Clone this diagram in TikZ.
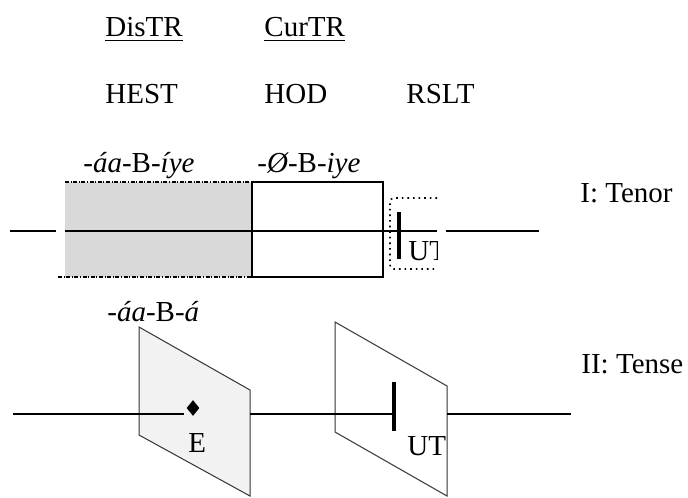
\documentclass[tikz,border=0pt]{standalone}
\usepackage{fontspec}
\setmainfont{Liberation Serif}
\usetikzlibrary{shapes.geometric}

\tikzset{
  lbl/.style={anchor=base west, inner sep=0pt, font=\fontsize{14.5}{17}\selectfont},
  tline/.style={line width=1.1pt},
  utbar/.style={line width=1.8pt},
  plane/.style={draw=black!80, line width=0.5pt},
  dashdotline/.style={line width=0.6pt, dash pattern=on 2pt off 0.8pt on 0.5pt off 0.8pt},
}

\begin{document}
\begin{tikzpicture}[x=0.5pt,y=-0.5pt]
\useasboundingbox (0,0) rectangle (688,497);

% Row positions
\def\rowa{231}
\def\rowb{414}

% Column heads
\node[lbl] (distr) at (105,37) {\underline{DisTR}};
\node[lbl] (curtr) at (264,37) {\underline{CurTR}};
\node[lbl] (hest) at (105,104) {HEST};
\node[lbl] (hod)  at (264,104) {HOD};
\node[lbl] (rslt) at (406,104) {RSLT};

% I: Tenor (boxes on the time line)
\fill[black!15] (65,182) rectangle (252,277);
\draw[dashdotline] (65,182) -- (252,182);
\draw[dashdotline] (58,277) -- (252,277);
\draw[line width=0.75pt] (252,182) rectangle (383,277);
\draw[line width=0.8pt, dotted, rounded corners=2pt] (437,198) -- (390,198) -- (390,269) -- (437,269);

\draw[tline] (10,\rowa) -- (56,\rowa);
\draw[tline] (65,\rowa) -- (437,\rowa);
\draw[tline] (446,\rowa) -- (539,\rowa);
\draw[utbar] (399,212) -- (399,259);
\begin{scope}
  \clip (0,0) rectangle (437,497);
  \node[lbl] (uta) at (408,260) {UT};
\end{scope}

\node[lbl] (morpha) at (83,172) {\textit{-áa-}B\textit{-íye}};
\node[lbl] (morphb) at (257,172) {\textit{-Ø-}B\textit{-iye}};
\node[lbl] (tenor) at (580,202) {I: Tenor};

% II: Tense (planes on the time line)
\filldraw[plane, fill=black!5] (139,327) -- (250,390) -- (250,496) -- (139,435) -- cycle;
\draw[plane] (335,322) -- (447,386) -- (447,496) -- (335,432) -- cycle;

\draw[tline] (13,\rowb) -- (184,\rowb);
\node[diamond, fill=black, inner sep=0pt, minimum width=6.5pt, minimum height=8pt] (ev) at (193,408) {};
\node[lbl] (e) at (188,452) {E};
\draw[tline] (250,\rowb) -- (394,\rowb);
\draw[utbar] (394,382) -- (394,431);
\draw[tline] (447,\rowb) -- (571,\rowb);
\node[lbl] (utb) at (407,455) {UT};

\node[lbl] (morphc) at (107,321) {\textit{-áa-}B\textit{-á}};
\node[lbl] (tense) at (581,373) {II: Tense};
\end{tikzpicture}
\end{document}
